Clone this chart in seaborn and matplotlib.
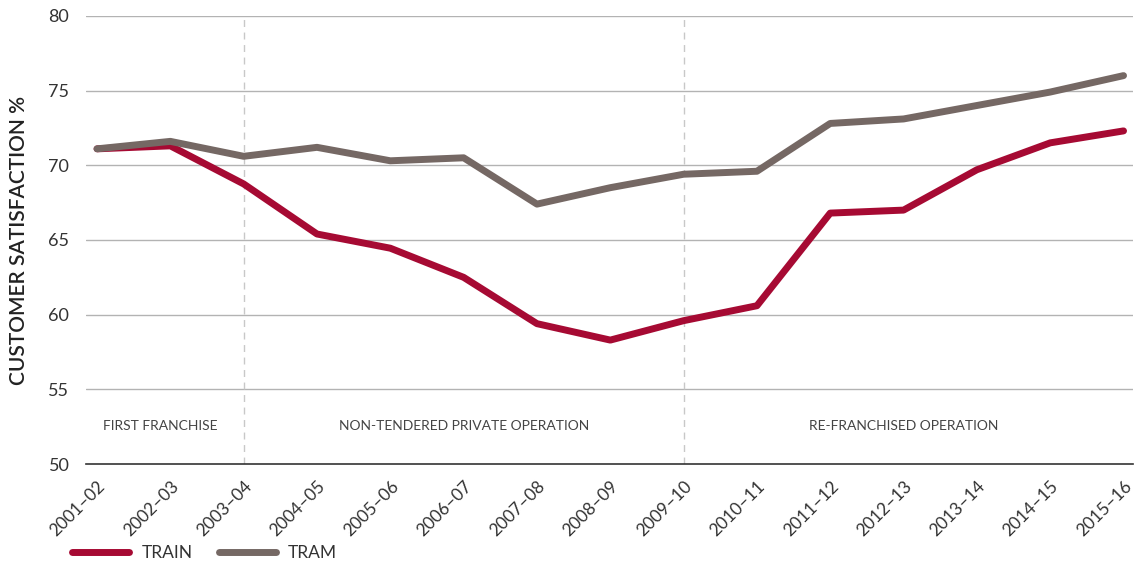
import matplotlib.pyplot as plt
import pandas as pd
import seaborn as sns

years = ['2001–02', '2002–03', '2003–04', '2004–05', '2005–06', '2006–07', '2007–08',
         '2008–09', '2009–10', '2010–11', '2011–12', '2012–13', '2013–14', '2014–15', '2015–16']
train = [71.1, 71.3, 68.75, 65.4, 64.45, 62.5, 59.4, 58.3, 59.6, 60.6, 66.8, 67.0, 69.7, 71.5, 72.3]
tram = [71.1, 71.6, 70.6, 71.2, 70.3, 70.5, 67.4, 68.5, 69.4, 69.6, 72.8, 73.1, 74.0, 74.9, 76.0]
periods = ['FIRST FRANCHISE', 'NON-TENDERED PRIVATE OPERATION', 'RE-FRANCHISED OPERATION']
period_centres = [0.86, 5.0, 11.0]
period_breaks = [2, 8]

df = pd.DataFrame({
    'x': list(range(len(years))) * 2,
    'value': train + tram,
    'mode': ['TRAIN'] * len(years) + ['TRAM'] * len(years),
})

sns.set_style('white')
plt.rcParams['font.family'] = ['Lato', 'DejaVu Sans']
text_col = '#333333'

fig = plt.figure(figsize=(11.35, 5.66), dpi=100)
ax = fig.add_axes([0.0758, 0.18, 0.9225, 0.792])

for y in [55, 60, 65, 70, 75, 80]:
    ax.axhline(y, color='#b3b3b3', lw=1, zorder=1)
for b in period_breaks:
    ax.axvline(b, color='#c8c8c8', lw=1, ls=(0, (5, 4)), zorder=1)

sns.lineplot(data=df, x='x', y='value', hue='mode', ax=ax,
             palette={'TRAIN': '#a60a33', 'TRAM': '#756864'},
             lw=5, solid_capstyle='round', zorder=3)

for name, cx in zip(periods, period_centres):
    ax.text(cx, 52.55, name, ha='center', va='center', fontsize=10, color='#444444')

ax.set_xlim(-0.15, 14.13)
ax.set_ylim(50, 80)
ax.set_yticks([50, 55, 60, 65, 70, 75, 80])
ax.set_xticks(range(len(years)))
ax.set_xticklabels(years, rotation=45, ha='right', rotation_mode='anchor')
ax.tick_params(axis='x', length=6, width=1, color='#333333', labelsize=12.5,
               labelcolor=text_col, pad=4)
ax.tick_params(axis='y', length=0, labelsize=13, labelcolor=text_col, pad=12)
for s in ['top', 'right', 'left']:
    ax.spines[s].set_visible(False)
ax.spines['bottom'].set_color('#333333')
ax.spines['bottom'].set_linewidth(1.2)
ax.set_xlabel('')
ax.set_ylabel('CUSTOMER SATISFACTION %', fontsize=15, fontweight='semibold',
              color='#222222', labelpad=14)

ax.legend(loc='upper left', bbox_to_anchor=(-0.02, -0.166), ncol=2, frameon=False,
          fontsize=12.5, handlelength=3.3, handletextpad=0.7, columnspacing=1.5,
          labelcolor=text_col, borderaxespad=0)

fig.savefig('out.png', dpi=100)
